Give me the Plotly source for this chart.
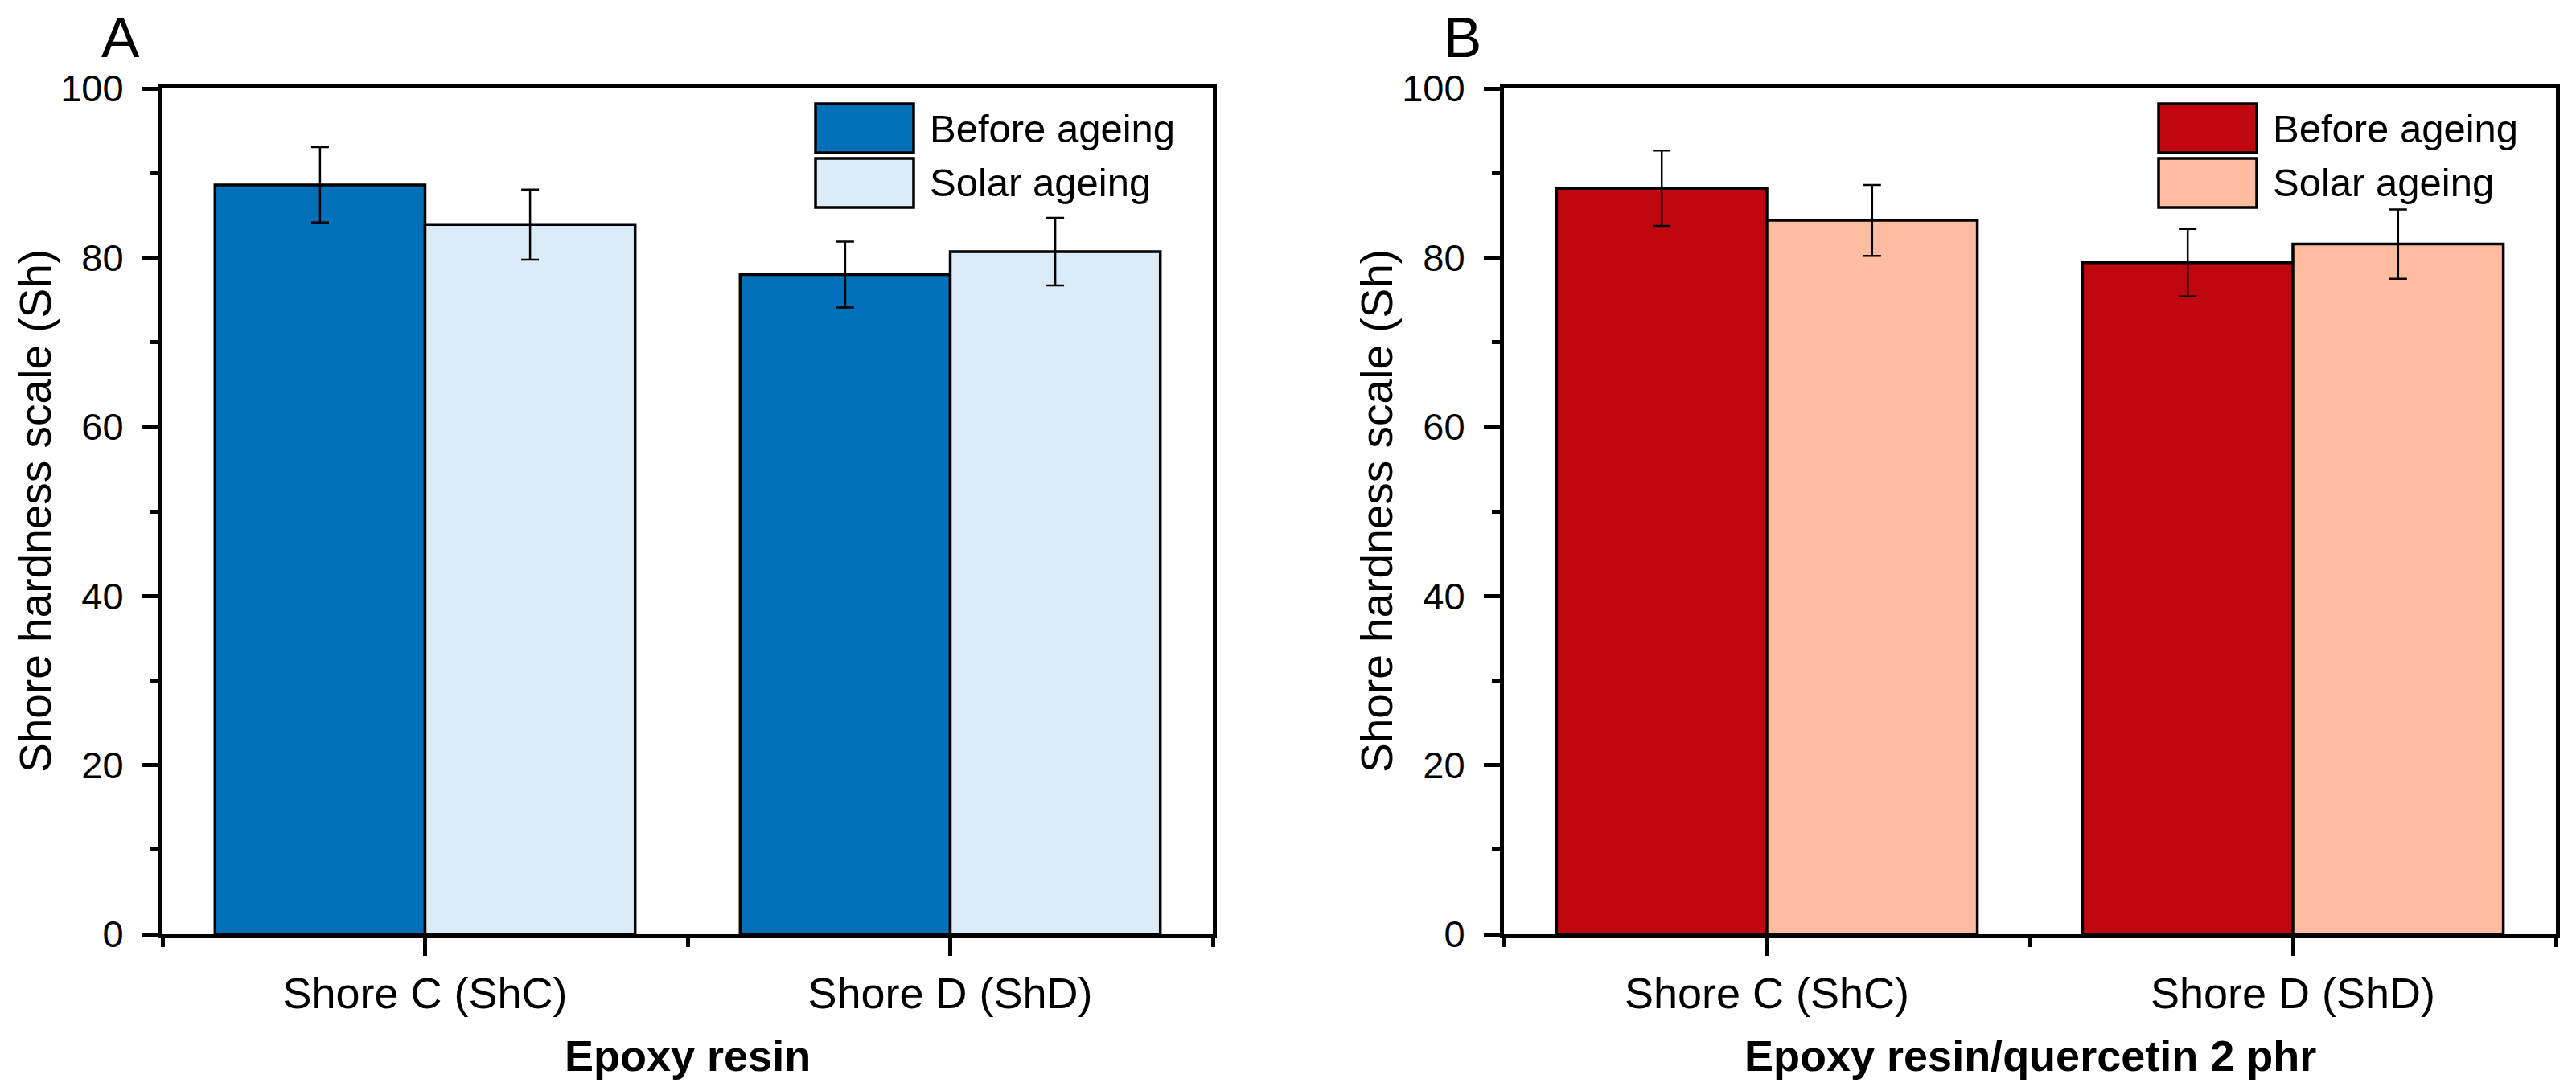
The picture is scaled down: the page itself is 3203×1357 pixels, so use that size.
import plotly.graph_objects as go

# ---------------- data ----------------
categories = ["Shore C (ShC)", "Shore D (ShD)"]
series_names = ["Before ageing", "Solar ageing"]

a_before = [88.6, 78.0]
a_before_err = [4.45, 3.9]
a_solar = [83.9, 80.7]
a_solar_err = [4.15, 4.0]

b_before = [88.2, 79.4]
b_before_err = [4.45, 4.0]
b_solar = [84.4, 81.6]
b_solar_err = [4.2, 4.1]

y_ticks = [0, 20, 40, 60, 80, 100]

colors_a = ["#0070B8", "#DBEBF7"]
colors_b = ["#C0070F", "#FEBCA1"]

panel_titles = ["A", "B"]
x_titles = ["Epoxy resin", "Epoxy resin/quercetin 2 phr"]
y_title = "Shore hardness scale (Sh)"

# ---------------- layout geometry ----------------
PAGE_W, PAGE_H = 3203, 1357
OFF = 8  # default page body margin
W, H = PAGE_W - 2 * OFF, PAGE_H - 2 * OFF
FONT = "Arial, Liberation Sans, sans-serif"


def fx(px):
    return (px - OFF) / W


def fy(py):
    return 1 - (py - OFF) / H


panels = [
    dict(left=202, right=1508, xa="x", ya="y",
         data=[(a_before, a_before_err), (a_solar, a_solar_err)], colors=colors_a),
    dict(left=1870, right=3178, xa="x2", ya="y2",
         data=[(b_before, b_before_err), (b_solar, b_solar_err)], colors=colors_b),
]
top_px, bottom_px = 110, 1162

fig = go.Figure()
xpos = list(range(len(categories)))

for p in panels:
    for i, (vals, errs) in enumerate(p["data"]):
        fig.add_trace(go.Bar(
            x=xpos, y=vals, name=series_names[i],
            xaxis=p["xa"], yaxis=p["ya"],
            offsetgroup=str(i),
            marker=dict(color=p["colors"][i], line=dict(color="black", width=3.5)),
            error_y=dict(type="data", array=errs, visible=True,
                         color="black", thickness=2.5, width=11),
            showlegend=False,
        ))

axis_common_x = dict(
    range=[-0.5, 1.5], tickmode="array", tickvals=xpos, ticktext=categories,
    showline=True, linecolor="black", linewidth=5, mirror=True,
    ticks="outside", ticklen=22, tickwidth=5, tickcolor="black",
    minor=dict(tickmode="array", tickvals=[-0.5, 0.5, 1.5], ticks="outside",
               ticklen=11, tickwidth=5, tickcolor="black"),
    tickfont=dict(family=FONT, size=54, color="black"),
    showgrid=False, zeroline=False, automargin=False, fixedrange=True,
)
axis_common_y = dict(
    range=[0, 100], tickmode="array", tickvals=y_ticks,
    showline=True, linecolor="black", linewidth=5, mirror=True,
    ticks="outside", ticklen=20, tickwidth=5, tickcolor="black",
    minor=dict(dtick=10, tick0=0, ticks="outside", ticklen=10, tickwidth=5,
               tickcolor="black"),
    tickfont=dict(family=FONT, size=47, color="black"),
    ticklabelstandoff=14,
    showgrid=False, zeroline=False, automargin=False, fixedrange=True,
)

ydom = [fy(bottom_px), fy(top_px)]
fig.update_layout(
    width=W, height=H,
    margin=dict(l=0, r=0, t=0, b=0),
    paper_bgcolor="white", plot_bgcolor="white",
    barmode="group", bargap=0.2, bargroupgap=0,
    template="none",
    xaxis=dict(domain=[fx(panels[0]["left"]), fx(panels[0]["right"])], anchor="y", **axis_common_x),
    yaxis=dict(domain=ydom, anchor="x", **axis_common_y),
    xaxis2=dict(domain=[fx(panels[1]["left"]), fx(panels[1]["right"])], anchor="y2", **axis_common_x),
    yaxis2=dict(domain=ydom, anchor="x2", **axis_common_y),
)

annotations = []
shapes = []
for k, p in enumerate(panels):
    L, R = p["left"], p["right"]
    # panel letter
    annotations.append(dict(text=panel_titles[k], x=fx(L - 52), y=fy(46), xref="paper", yref="paper",
                            showarrow=False, xanchor="center", yanchor="middle",
                            font=dict(family=FONT, size=71, color="black")))
    # y title
    annotations.append(dict(text=y_title, x=fx(L - 158), y=fy((top_px + bottom_px) / 2),
                            xref="paper", yref="paper", textangle=-90,
                            showarrow=False, xanchor="center", yanchor="middle",
                            font=dict(family=FONT, size=55, color="black")))
    # x title
    annotations.append(dict(text="<b>" + x_titles[k] + "</b>", x=fx((L + R) / 2), y=fy(1313),
                            xref="paper", yref="paper",
                            showarrow=False, xanchor="center", yanchor="middle",
                            font=dict(family=FONT, size=54, color="black")))
    # legend
    bx0, bx1 = R - 494, R - 372
    rows = [(129, 190), (197, 258)]
    for i, (y0, y1) in enumerate(rows):
        shapes.append(dict(type="rect", xref="paper", yref="paper",
                           x0=fx(bx0), x1=fx(bx1), y0=fy(y1), y1=fy(y0),
                           fillcolor=p["colors"][i], line=dict(color="black", width=3.5)))
        annotations.append(dict(text=series_names[i], x=fx(bx1 + 18), y=fy((y0 + y1) / 2),
                                xref="paper", yref="paper", showarrow=False,
                                xanchor="left", yanchor="middle",
                                font=dict(family=FONT, size=49, color="black")))

fig.update_layout(annotations=annotations, shapes=shapes)

fig.write_html("out.html")
